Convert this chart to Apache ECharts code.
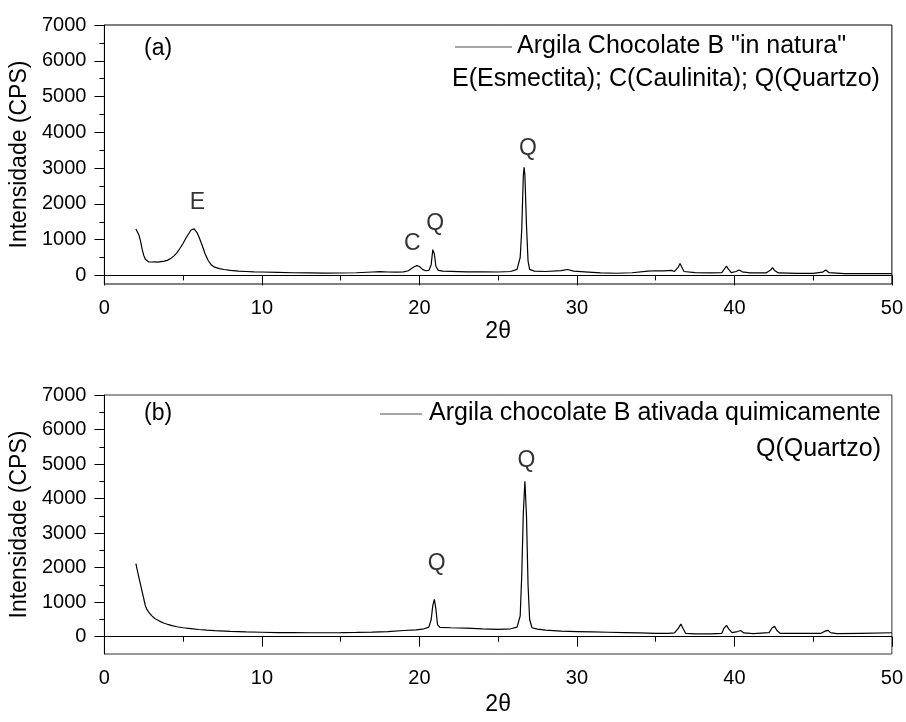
<!DOCTYPE html>
<html>
<head>
<meta charset="utf-8">
<script src="https://cdn.jsdelivr.net/npm/echarts@6/dist/echarts.min.js"></script>
<style>html,body{margin:0;padding:0;background:#fff}#c{width:906px;height:722px}</style>
</head>
<body>
<div id="c"></div>
<script>
// ---- data: pattern (a) "in natura" ----
const xA = [2.0,2.1,2.2,2.3,2.4,2.5,2.6,2.7,2.8,3.0,3.2,3.4,3.6,3.8,4.0,4.2,4.4,4.6,4.8,5.0,5.2,5.4,5.5,5.6,5.7,5.8,5.9,6.0,6.2,6.4,6.6,6.8,7.0,7.3,7.6,8.0,8.5,9.0,9.5,10,11,12,13,14,15,16,17,17.5,18,18.5,19.0,19.3,19.5,19.7,19.85,20.0,20.2,20.4,20.6,20.75,20.85,20.9,20.95,21.05,21.2,21.5,22,23,24,25,25.8,26.2,26.4,26.5,26.6,26.65,26.7,26.8,26.9,27.0,27.3,28,29,29.4,29.8,30.5,31.5,32.5,33.5,34.5,35,35.5,36.0,36.2,36.45,36.55,36.65,36.8,37.5,38.5,39.2,39.4,39.5,39.6,39.8,40.1,40.3,40.5,41,42,42.3,42.42,42.55,42.8,44,45,45.6,45.8,46.0,47,48,49,50];
const yA = [1300,1250,1120,950,730,560,450,400,380,375,380,370,385,400,420,470,540,630,760,900,1060,1200,1270,1320,1300,1250,1180,1080,850,600,410,290,230,190,165,140,120,110,100,95,85,75,70,65,68,75,95,105,95,90,100,130,190,250,275,250,170,130,140,300,720,770,600,250,140,120,115,100,100,95,110,170,500,1300,2800,3020,2800,1400,400,170,120,110,135,165,120,100,70,60,75,120,130,125,140,110,240,330,240,110,80,70,80,200,260,190,80,110,150,100,70,70,150,220,140,70,55,55,90,150,80,50,50,50,50];

// ---- data: pattern (b) ativada quimicamente ----
const xB = [2.0,2.1,2.2,2.3,2.4,2.5,2.6,2.7,2.8,3.0,3.2,3.4,3.6,3.8,4.0,4.3,4.6,5.0,5.5,6.0,6.5,7.0,8,9,10,11,12,13,14,15,16,17,18,19,19.8,20.3,20.6,20.75,20.85,20.95,21.05,21.15,21.3,22,23,24,25,25.8,26.2,26.4,26.5,26.6,26.7,26.8,26.9,27.0,27.15,27.5,28,29,30,31,32,33,34,35,35.8,36.2,36.45,36.6,36.75,36.9,37.5,38.5,39.2,39.35,39.5,39.65,39.85,40.2,40.4,40.6,41.2,42.2,42.4,42.55,42.7,42.9,44,45.5,45.8,45.95,46.1,46.5,48,50];
const yB = [2120,1900,1700,1500,1300,1100,900,790,720,610,530,480,430,390,360,320,290,260,235,210,190,175,155,140,130,120,118,115,115,118,125,135,150,180,200,230,280,500,900,1080,800,350,270,260,250,230,215,230,280,600,1800,3600,4500,3500,1500,500,260,220,190,160,150,140,130,120,110,100,100,110,250,370,230,100,85,80,100,250,330,220,120,150,180,110,90,120,260,300,180,100,95,100,170,185,120,90,100,115];

// ---- peak annotations ----
const annA = ['E','C','Q','Q'];
const annAx = [5.9, 19.55, 21.0, 26.9];
const annAy = [2030, 890, 1450, 3530];
const annB = ['Q','Q'];
const annBx = [21.1, 26.8];
const annBy = [2120, 5100];

// ---- axis ticks ----
const yMajor = [0,1000,2000,3000,4000,5000,6000,7000];
const yMinor = [500,1500,2500,3500,4500,5500,6500];
const yMinA = -240, yMinB = -500, yMax = 7000;

const nameA = 'Argila Chocolate B "in natura"';
const nameB = 'Argila chocolate B ativada quimicamente';
const noteA = 'E(Esmectita); C(Caulinita); Q(Quartzo)';
const noteB = 'Q(Quartzo)';

const FF = "'Liberation Sans', Arial, sans-serif";
const pairs = (xs, ys) => xs.map((x, i) => [x, ys[i]]);
const ann = (xs, ys, ts) => xs.map((x, i) => [x, ys[i], ts[i]]);

function xAxisFor(i) {
  return {
    type: 'value', gridIndex: i, min: 0, max: 50, interval: 10,
    name: '2θ', nameLocation: 'middle', nameGap: i === 0 ? 36 : 39,
    nameTextStyle: { fontSize: 23, color: '#000', fontFamily: FF },
    axisLine: { lineStyle: { color: '#000', width: 1 } },
    axisTick: { length: 10, lineStyle: { color: '#000' } },
    minorTick: { show: true, splitNumber: 2, length: 5, lineStyle: { color: '#000' } },
    axisLabel: { fontSize: 20, color: '#000', margin: 14, fontFamily: FF, formatter: v => String(v) },
    splitLine: { show: false }, minorSplitLine: { show: false }
  };
}
function yAxisMain(i, mn) {
  return {
    type: 'value', gridIndex: i, min: mn, max: yMax,
    name: 'Intensidade (CPS)', nameLocation: 'middle', nameGap: 72,
    nameTextStyle: { fontSize: 23, color: '#000', fontFamily: FF },
    axisLine: { show: true, lineStyle: { color: '#000', width: 1 } },
    axisTick: { show: true, length: 10, customValues: yMajor, lineStyle: { color: '#000' } },
    axisLabel: { fontSize: 20, color: '#000', margin: 18, customValues: yMajor, fontFamily: FF, formatter: v => String(v) },
    splitLine: { show: false }
  };
}
function yAxisMinor(i, mn) {
  return {
    type: 'value', gridIndex: i, min: mn, max: yMax, position: 'left',
    axisLine: { show: false },
    axisTick: { show: true, length: 5, customValues: yMinor, lineStyle: { color: '#000' } },
    axisLabel: { show: false },
    splitLine: { show: false }
  };
}
const txt = (t, size) => ({ text: t, font: size + 'px ' + FF, fill: '#000' });

const chart = echarts.init(document.getElementById('c'));
chart.setOption({
  animation: false,
  textStyle: { fontFamily: FF },
  grid: [
    { left: 104, right: 13, top: 25, height: 259, show: true, borderColor: '#000', borderWidth: 1 },
    { left: 104, right: 13, top: 395, height: 259, show: true, borderColor: '#333', borderWidth: 1 }
  ],
  xAxis: [xAxisFor(0), xAxisFor(1)],
  yAxis: [yAxisMain(0, yMinA), yAxisMain(1, yMinB), yAxisMinor(0, yMinA), yAxisMinor(1, yMinB)],
  graphic: [
    { type: 'text', left: 144, top: 37, style: txt('(a)', 23) },
    { type: 'text', left: 144, top: 402, style: txt('(b)', 23) },
    // legend (a)
    { type: 'line', shape: { x1: 455, y1: 47, x2: 512, y2: 47 }, style: { stroke: '#888', lineWidth: 1.3 } },
    { type: 'text', left: 517, top: 34, style: txt(nameA, 25) },
    { type: 'text', left: 452, top: 67, style: txt(noteA, 25) },
    // legend (b)
    { type: 'line', shape: { x1: 380, y1: 414, x2: 422, y2: 414 }, style: { stroke: '#888', lineWidth: 1.3 } },
    { type: 'text', left: 429, top: 401, style: txt(nameB, 25) },
    { type: 'text', right: 25, top: 437, style: txt(noteB, 25) }
  ],
  series: [
    { name: nameA, type: 'line', xAxisIndex: 0, yAxisIndex: 0, data: pairs(xA, yA),
      symbol: 'none', lineStyle: { color: '#000', width: 1.2 }, itemStyle: { color: '#000' } },
    { name: nameB, type: 'line', xAxisIndex: 1, yAxisIndex: 1, data: pairs(xB, yB),
      symbol: 'none', lineStyle: { color: '#000', width: 1.2 }, itemStyle: { color: '#000' } },
    { type: 'scatter', xAxisIndex: 0, yAxisIndex: 0, data: ann(annAx, annAy, annA), symbolSize: 0,
      label: { show: true, position: 'inside', formatter: p => p.value[2], fontSize: 23, color: '#000', fontFamily: FF } },
    { type: 'scatter', xAxisIndex: 1, yAxisIndex: 1, data: ann(annBx, annBy, annB), symbolSize: 0,
      label: { show: true, position: 'inside', formatter: p => p.value[2], fontSize: 23, color: '#000', fontFamily: FF } }
  ]
});
</script>
</body>
</html>
